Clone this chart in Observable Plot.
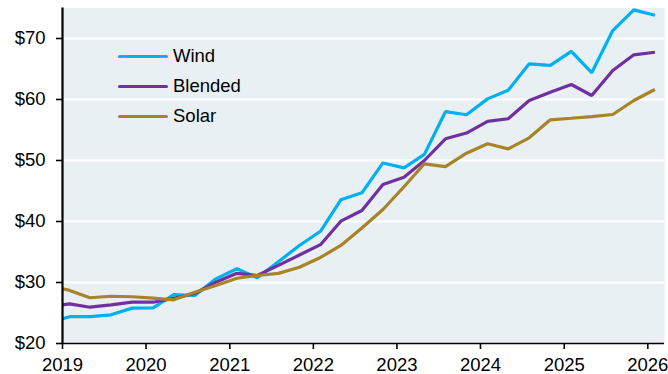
<!DOCTYPE html>
<html>
<head>
<meta charset="utf-8">
<script src="https://cdn.jsdelivr.net/npm/d3@7"></script>
<script src="https://cdn.jsdelivr.net/npm/@observablehq/plot@0.6"></script>
<style>
  html, body { margin: 0; padding: 0; background: #ffffff; }
  #wrap { position: relative; width: 668px; height: 374px; overflow: hidden; font-family: "Liberation Sans", Arial, sans-serif; }
  #legend { position: absolute; left: 118px; top: 41px; font-size: 18.5px; color: #000; }
  .item { display: flex; align-items: center; height: 30.2px; }
  .swatch { width: 50px; height: 3px; border-radius: 1.5px; margin-right: 5px; }
</style>
</head>
<body>
<div id="wrap"><div id="legend"></div></div>
<script>
// Data
const dates = ["2019-01-01","2019-02-01","2019-05-01","2019-08-01","2019-11-01",
  "2020-02-01","2020-05-01","2020-08-01","2020-11-01",
  "2021-02-01","2021-05-01","2021-08-01","2021-11-01",
  "2022-02-01","2022-05-01","2022-08-01","2022-11-01",
  "2023-02-01","2023-05-01","2023-08-01","2023-11-01",
  "2024-02-01","2024-05-01","2024-08-01","2024-11-01",
  "2025-02-01","2025-05-01","2025-08-01","2025-11-01",
  "2026-02-01"];
const wind = [24.05, 24.4, 24.4, 24.7, 25.8, 25.85, 28.0, 27.87, 30.6, 32.25, 30.77, 33.4, 36.07, 38.4, 43.56, 44.7, 49.6, 48.8, 51.0, 58.0, 57.5, 60.1, 61.5, 65.85, 65.6, 67.9, 64.4, 71.3, 74.7, 73.8];
const blended = [26.34, 26.5, 25.95, 26.34, 26.77, 26.77, 27.4, 28.2, 30.05, 31.5, 31.15, 32.8, 34.5, 36.2, 40.05, 41.8, 46.07, 47.26, 50.0, 53.56, 54.5, 56.4, 56.84, 59.84, 61.2, 62.46, 60.66, 64.75, 67.33, 67.75];
const solar = [28.97, 28.7, 27.5, 27.75, 27.66, 27.43, 27.16, 28.4, 29.5, 30.7, 31.15, 31.5, 32.5, 34.1, 36.07, 38.93, 41.97, 45.7, 49.46, 49.0, 51.2, 52.74, 51.9, 53.72, 56.67, 56.93, 57.2, 57.54, 59.84, 61.64];
const seriesNames = ["Wind", "Blended", "Solar"];
const seriesColors = ["#00b0f0", "#7030a0", "#a88426"];
const yTicks = [20, 30, 40, 50, 60, 70];
const xTickYears = [2019, 2020, 2021, 2022, 2023, 2024, 2025, 2026];

const parse = d3.utcParse("%Y-%m-%d");
const seriesValues = [wind, blended, solar];
const rows = [];
seriesNames.forEach((name, si) => {
  seriesValues[si].forEach((v, i) => rows.push({series: name, date: parse(dates[i]), value: v}));
});
const xTicks = xTickYears.map(y => new Date(Date.UTC(y, 0, 1)));

const font = '"Liberation Sans", Arial, sans-serif';
const chart = Plot.plot({
  width: 668,
  height: 374,
  marginLeft: 62,
  marginRight: 4,
  marginTop: 7.5,
  marginBottom: 31,
  style: {fontFamily: font, fontSize: "18.5px", color: "#000", background: "transparent"},
  x: {type: "utc", domain: [new Date(Date.UTC(2019, 0, 1)), new Date(Date.UTC(2026, 2, 15))], label: null},
  y: {domain: [20, 75], label: null},
  color: {domain: seriesNames, range: seriesColors},
  marks: [
    Plot.frame({fill: "#e8f0f4", stroke: null}),
    Plot.gridY(yTicks.filter(d => d > 20), {stroke: "#ffffff", strokeOpacity: 1, strokeWidth: 2.2}),
    Plot.lineY(rows, {x: "date", y: "value", z: "series", stroke: "series", strokeWidth: 3.2, strokeLinejoin: "miter", strokeLinecap: "butt"}),
    Plot.ruleY([20], {stroke: "#000", strokeWidth: 1.6}),
    Plot.ruleX([new Date(Date.UTC(2019, 0, 1))], {stroke: "#000", strokeWidth: 2.2}),
    Plot.axisY(yTicks, {label: null, tickFormat: d => "$" + d, tickSize: 6, tickPadding: 11, stroke: "#000", strokeWidth: 1.6, fontSize: 18.5, fill: "#000"}),
    Plot.axisX(xTicks, {label: null, tickFormat: d3.utcFormat("%Y"), tickSize: 6, tickPadding: 8, stroke: "#000", strokeWidth: 1.6, fontSize: 18.5, fill: "#000"})
  ]
});
document.getElementById("wrap").prepend(chart);

const legend = document.getElementById("legend");
seriesNames.forEach((name, i) => {
  const item = document.createElement("div");
  item.className = "item";
  const sw = document.createElement("div");
  sw.className = "swatch";
  sw.style.background = seriesColors[i];
  const label = document.createElement("span");
  label.textContent = name;
  item.appendChild(sw);
  item.appendChild(label);
  legend.appendChild(item);
});
</script>
</body>
</html>
